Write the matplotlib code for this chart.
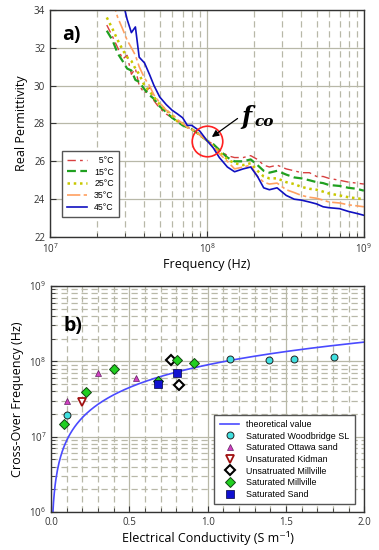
import numpy as np
import matplotlib
matplotlib.use("Agg")
import matplotlib.pyplot as plt
from matplotlib.ticker import LogLocator, MultipleLocator, NullFormatter, FormatStrFormatter

plt.rcParams['font.family'] = ['Open Sans', 'DejaVu Sans']

# ---- panel a) : real permittivity vs frequency
freq = [2.3e7, 2.5e7, 2.7e7, 2.9e7, 3.1e7, 3.3e7, 3.5e7, 3.7e7, 4.0e7, 4.3e7,
        4.6e7, 5.0e7, 5.5e7, 6.0e7, 6.5e7, 7.0e7, 7.5e7, 8.0e7, 9.0e7, 1.0e8,
        1.1e8, 1.2e8, 1.35e8, 1.5e8, 1.7e8, 1.9e8, 2.1e8, 2.3e8, 2.5e8, 2.8e8,
        3.2e8, 3.6e8, 4.0e8, 4.5e8, 5.0e8, 5.5e8, 6.0e8, 7.0e8, 8.0e8, 9.0e8, 1.0e9]
eps_5 = [33.2, 32.6, 32.0, 31.4, 31.6, 30.6, 30.9, 30.0, 29.6, 29.9, 29.2, 28.8, 28.5, 28.3,
         28.1, 28.0, 27.8, 27.7, 27.4, 27.1, 26.9, 26.6, 26.3, 26.2, 26.2, 26.3, 26.1, 25.8,
         25.7, 25.8, 25.6, 25.5, 25.4, 25.4, 25.2, 25.2, 25.1, 25.0, 24.9, 24.85, 24.8]
eps_15 = [32.9, 32.4, 31.7, 31.3, 30.9, 30.8, 30.3, 30.2, 29.8, 29.5, 29.3, 28.9, 28.6, 28.3,
          28.1, 27.9, 27.8, 27.7, 27.4, 27.1, 26.9, 26.6, 26.2, 26.0, 26.0, 26.1, 25.8, 25.5,
          25.4, 25.5, 25.3, 25.15, 25.1, 25.0, 24.9, 24.85, 24.75, 24.7, 24.6, 24.55, 24.45]
eps_25 = [33.6, 33.0, 32.4, 31.9, 31.5, 31.3, 30.9, 30.6, 30.0, 29.7, 29.4, 29.0, 28.7, 28.4,
          28.1, 28.0, 27.8, 27.7, 27.4, 27.1, 26.8, 26.5, 26.1, 25.9, 25.8, 25.9, 25.5, 25.2,
          25.1, 25.1, 24.9, 24.8, 24.65, 24.55, 24.5, 24.4, 24.3, 24.2, 24.1, 24.05, 24.0]
eps_35 = [35.0, 34.5, 33.6, 33.0, 32.4, 32.0, 31.6, 31.0, 30.4, 30.0, 29.5, 29.1, 28.7, 28.5,
          28.2, 28.0, 27.8, 27.7, 27.4, 27.1, 26.8, 26.4, 26.0, 25.6, 25.7, 25.8, 25.2, 24.9,
          24.8, 24.85, 24.5, 24.35, 24.2, 24.1, 24.05, 23.95, 23.85, 23.8, 23.7, 23.65, 23.6]
eps_45 = [36.0, 35.5, 35.0, 34.5, 33.5, 32.8, 33.1, 31.5, 31.2, 30.6, 30.0, 29.4, 29.0, 28.7,
          28.5, 28.3, 27.9, 27.9, 27.6, 27.1, 26.7, 26.2, 25.7, 25.45, 25.6, 25.7, 25.2, 24.6,
          24.5, 24.6, 24.2, 24.0, 23.95, 23.85, 23.75, 23.6, 23.55, 23.5, 23.35, 23.25, 23.15]
temp_labels = ['  5°C', '15°C', '25°C', '35°C', '45°C']
f_co = 1.0e8
eps_co = 27.1

# ---- panel b) : cross-over frequency vs conductivity
theory_slope = 9.0e7   # Hz per S/m
woodbridge_x = [0.104, 1.145, 1.389, 1.55, 1.81]
woodbridge_y = [1.97e7, 1.09e8, 1.04e8, 1.07e8, 1.13e8]
ottawa_x = [0.104, 0.298, 0.54]
ottawa_y = [3.0e7, 7.05e7, 6.0e7]
kidman_x = [0.196]
kidman_y = [2.9e7]
unsat_mill_x = [0.768, 0.817]
unsat_mill_y = [1.03e8, 4.8e7]
sat_mill_x = [0.085, 0.223, 0.402, 0.681, 0.802, 0.915]
sat_mill_y = [1.48e7, 3.94e7, 7.8e7, 5.5e7, 1.03e8, 9.4e7]
sand_x = [0.681, 0.802]
sand_y = [4.93e7, 6.9e7]

fig = plt.figure(figsize=(3.79, 5.5), dpi=100)
ax1 = fig.add_axes([0.132, 0.569, 0.828, 0.413])
ax2 = fig.add_axes([0.135, 0.069, 0.826, 0.411])

grid_c = '#b8b8a8'

# panel a
styles = [
    dict(color='#d84040', lw=1.0, dashes=(6, 3, 2, 3)),
    dict(color='#20a020', lw=1.6, dashes=(4, 2)),
    dict(color='#c8c800', lw=1.8, dashes=(1, 1.5)),
    dict(color='#ffa060', lw=1.2, dashes=(8, 2, 2, 2)),
    dict(color='#1010c0', lw=1.2),
]
for ys, lab, st in zip([eps_5, eps_15, eps_25, eps_35, eps_45], temp_labels, styles):
    ax1.plot(freq, ys, label=lab, **st)

ax1.set_xscale('log')
ax1.set_xlim(1e7, 1e9)
ax1.set_ylim(22, 34)
ax1.yaxis.set_major_locator(MultipleLocator(2))
ax1.xaxis.set_minor_locator(LogLocator(base=10, subs=np.arange(2, 10)))
ax1.xaxis.set_minor_formatter(NullFormatter())
ax1.grid(True, which='major', color=grid_c, lw=0.9)
ax1.grid(True, which='minor', axis='x', color=grid_c, lw=0.9, ls=(0, (5, 3)))
ax1.set_axisbelow(True)
ax1.set_xlabel('Frequency (Hz)', fontsize=9, labelpad=2)
ax1.set_ylabel('Real Permittivity', fontsize=9)
ax1.text(0.04, 0.868, 'a)', transform=ax1.transAxes, fontsize=14, fontweight='bold')

ax1.plot([f_co], [eps_co], 'o', ms=22, mfc='none', mec='#ff2020', mew=1.2)
ax1.annotate('', xy=(1.04e8, 27.2), xytext=(1.62e8, 28.35),
             arrowprops=dict(arrowstyle='-|>', color='black', lw=0.9, mutation_scale=10))
ax1.text(1.66e8, 27.95, 'f', fontsize=17, family='DejaVu Serif', fontweight='bold',
         fontstyle='italic', va='baseline')
ax1.text(2.0e8, 27.85, 'co', fontsize=11, family='DejaVu Serif', fontweight='bold',
         fontstyle='italic', va='baseline')

ax1.legend(loc='lower left', bbox_to_anchor=(0.025, 0.07),
           prop={'family': 'Liberation Sans', 'size': 6.3}, frameon=True,
           fancybox=False, edgecolor='#555555', framealpha=1, handlelength=2.3,
           handletextpad=0.8, labelspacing=0.32, borderpad=0.55)

# panel b
sig = np.linspace(0.005, 2.0, 400)
ax2.plot(sig, theory_slope * sig, color='#4a4aff', lw=1.2, label='theoretical value')
ax2.plot(woodbridge_x, woodbridge_y, 'o', ms=5, mfc='#40e0e0', mec='#222222', mew=0.7,
         ls='none', label='Saturated Woodbridge SL')
ax2.plot(ottawa_x, ottawa_y, '^', ms=5, mfc='#d040c0', mec='#602060', mew=0.5,
         ls='none', label='Saturated Ottawa sand')
ax2.plot(kidman_x, kidman_y, 'v', ms=6, mfc='white', mec='#a01010', mew=1.3,
         ls='none', label='Unsaturated Kidman')
ax2.plot(unsat_mill_x, unsat_mill_y, 'D', ms=5.5, mfc='white', mec='black', mew=1.5,
         ls='none', label='Unsatruated Millville')
ax2.plot(sat_mill_x, sat_mill_y, 'D', ms=5.5, mfc='#20d020', mec='#114411', mew=0.7,
         ls='none', label='Saturated Millville')
ax2.plot(sand_x, sand_y, 's', ms=5.5, mfc='#1010d0', mec='#000040', mew=0.5,
         ls='none', label='Saturated Sand')

ax2.set_yscale('log')
ax2.set_xlim(0, 2.0)
ax2.set_ylim(1e6, 1e9)
ax2.xaxis.set_major_locator(MultipleLocator(0.5))
ax2.xaxis.set_minor_locator(MultipleLocator(0.1))
ax2.xaxis.set_major_formatter(FormatStrFormatter('%.1f'))
ax2.yaxis.set_minor_locator(LogLocator(base=10, subs=np.arange(2, 10)))
ax2.yaxis.set_minor_formatter(NullFormatter())
ax2.grid(True, which='major', color=grid_c, lw=0.9)
ax2.grid(True, which='minor', color=grid_c, lw=0.9, ls=(0, (5, 3)))
ax2.set_axisbelow(True)
ax2.set_xlabel('Electrical Conductivity (S m⁻¹)', fontsize=9, labelpad=2)
ax2.set_ylabel('Cross-Over Frequency (Hz)', fontsize=9)
ax2.text(0.04, 0.8, 'b)', transform=ax2.transAxes, fontsize=14, fontweight='bold')

ax2.legend(loc='lower right', bbox_to_anchor=(0.985, 0.015),
           prop={'family': 'Liberation Sans', 'size': 6.4}, frameon=True,
           fancybox=False, edgecolor='#555555', framealpha=1, handlelength=2.2,
           labelspacing=0.3, borderpad=0.6)

for ax in (ax1, ax2):
    ax.tick_params(which='both', direction='in', labelsize=7, colors='#333333')
    ax.tick_params(which='minor', length=3)
    ax.tick_params(which='major', length=4)
    for s in ax.spines.values():
        s.set_color('#333333')
        s.set_linewidth(1.0)

fig.savefig('out.png', dpi=100)
